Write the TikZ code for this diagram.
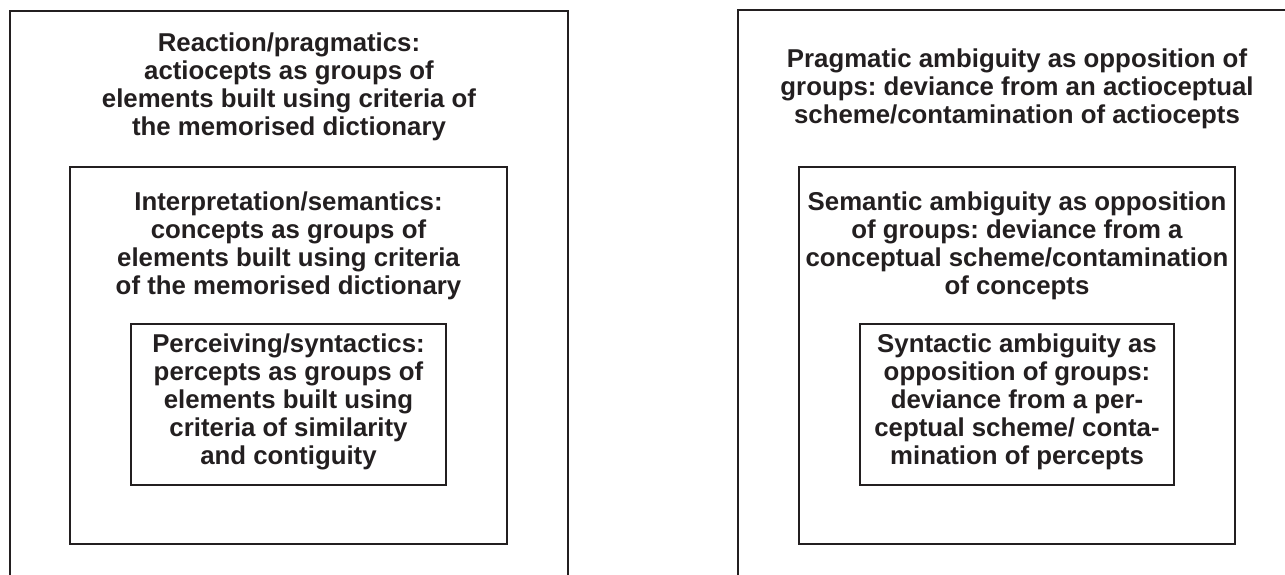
\documentclass[tikz,border=0pt]{standalone}
\usepackage{fontspec}
\setmainfont{Liberation Sans}
\usetikzlibrary{positioning}
\definecolor{inkgrey}{RGB}{35,31,32}
\frenchspacing

\begin{document}
\begin{tikzpicture}[x=1pt,y=-1pt,
    box/.style={draw=inkgrey,line width=1.4pt,outer sep=0pt,inner sep=0pt,anchor=north west},
    txt/.style={align=center,inner sep=0pt,text=inkgrey,font=\fontsize{25.8}{28}\selectfont\bfseries}]
    \useasboundingbox (0,0) rectangle (1285,574);
    \clip (0,0) rectangle (1285,574);
    % levels of processing
    \node[box,minimum width=558pt,minimum height=620pt] (prag) at (10,11) {};
    \node[box,minimum width=437pt,minimum height=377pt] (sem) at (70,167) {};
    \node[box,minimum width=315pt,minimum height=161pt] (syn) at (131,324) {};
    \node[txt,below=22pt of prag.north] (pragtxt) {Reaction/pragmatics:\\actiocepts as groups of\\elements built using criteria of\\the memorised dictionary};
    \node[txt,below=25pt of sem.north] (semtxt) {Interpretation/semantics:\\concepts as groups of\\elements built using criteria\\of the memorised dictionary};
    \node[txt,below=9.5pt of syn.north] (syntxt) {Perceiving/syntactics:\\percepts as groups of\\elements built using\\criteria of similarity\\and contiguity};
    % levels of ambiguity
    \node[box,minimum width=558pt,minimum height=620pt] (pragamb) at (738,10) {};
    \node[box,minimum width=436pt,minimum height=377pt] (semamb) at (799,167) {};
    \node[box,minimum width=314pt,minimum height=161pt] (synamb) at (860,324) {};
    \node[txt,below=39pt of pragamb.north] (pragambtxt) {Pragmatic ambiguity as opposition of\\groups: deviance from an actioceptual\\scheme/contamination of actiocepts};
    \node[txt,below=25pt of semamb.north] (semambtxt) {Semantic ambiguity as opposition\\of groups: deviance from a\\conceptual scheme/contamination\\of concepts};
    \node[txt,below=9.5pt of synamb.north] (synambtxt) {Syntactic ambiguity as\\opposition of groups:\\deviance from a per-\\ceptual scheme/ conta-\\mination of percepts};
\end{tikzpicture}
\end{document}
